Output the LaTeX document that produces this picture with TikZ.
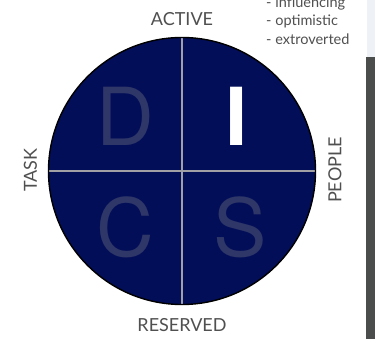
\documentclass[tikz,border=0pt]{standalone}
\usepackage{fontspec}
\setmainfont{Lato}
\newfontfamily\letterfont{TeX Gyre Heros}
\definecolor{navy}{RGB}{3,14,88}
\definecolor{lettercol}{RGB}{46,55,104}
\definecolor{labelgray}{RGB}{80,80,80}
\definecolor{divider}{RGB}{160,160,165}
\definecolor{barcol}{RGB}{75,77,77}
\definecolor{topstrip}{RGB}{238,242,246}
\begin{document}
\begin{tikzpicture}[x=1pt,y=-1pt,
  axislabel/.style={text=labelgray,font=\fontsize{18}{20}\selectfont,inner sep=0pt},
  bigletter/.style={text=lettercol,font=\letterfont\fontsize{80}{80}\selectfont,inner sep=0pt},
  note/.style={text=labelgray,font=\fontsize{14.5}{16}\selectfont,inner sep=0pt,anchor=west}]
\useasboundingbox (0,0) rectangle (375,339);
\fill[white] (0,0) rectangle (375,339);
\fill[topstrip] (367,0) rectangle (375,57);
\fill[barcol] (366,57) rectangle (375,339);
\coordinate (c) at (182,171);
\fill[navy] (c) circle (133.5);
\coordinate (top) at (182,37.5);
\coordinate (bot) at (182,304.5);
\coordinate (lft) at (48.5,171);
\coordinate (rgt) at (315.5,171);
\draw[divider,line width=1.3pt] (top) -- (bot);
\draw[divider,line width=1.3pt] (lft) -- (rgt);
\draw[black,line width=1.4pt] (c) circle (133.5);
\node[bigletter] (D) at (125,116) {D};
\node[bigletter,text=white] (I) at (237,116) {\textbf{I}};
\node[bigletter] (C) at (125,227) {C};
\node[bigletter] (S) at (240,227) {S};
\node[axislabel] (active) at (182,19) {ACTIVE};
\node[axislabel] (reserved) at (182,325) {RESERVED};
\node[axislabel,rotate=90] (task) at (30.5,170) {TASK};
\node[axislabel,rotate=90] (people) at (335,170) {PEOPLE};
\node[note] (n1) at (266,4) {- influencing};
\node[note] (n2) at (266,21.5) {- optimistic};
\node[note] (n3) at (266,39) {- extroverted};
\end{tikzpicture}
\end{document}
